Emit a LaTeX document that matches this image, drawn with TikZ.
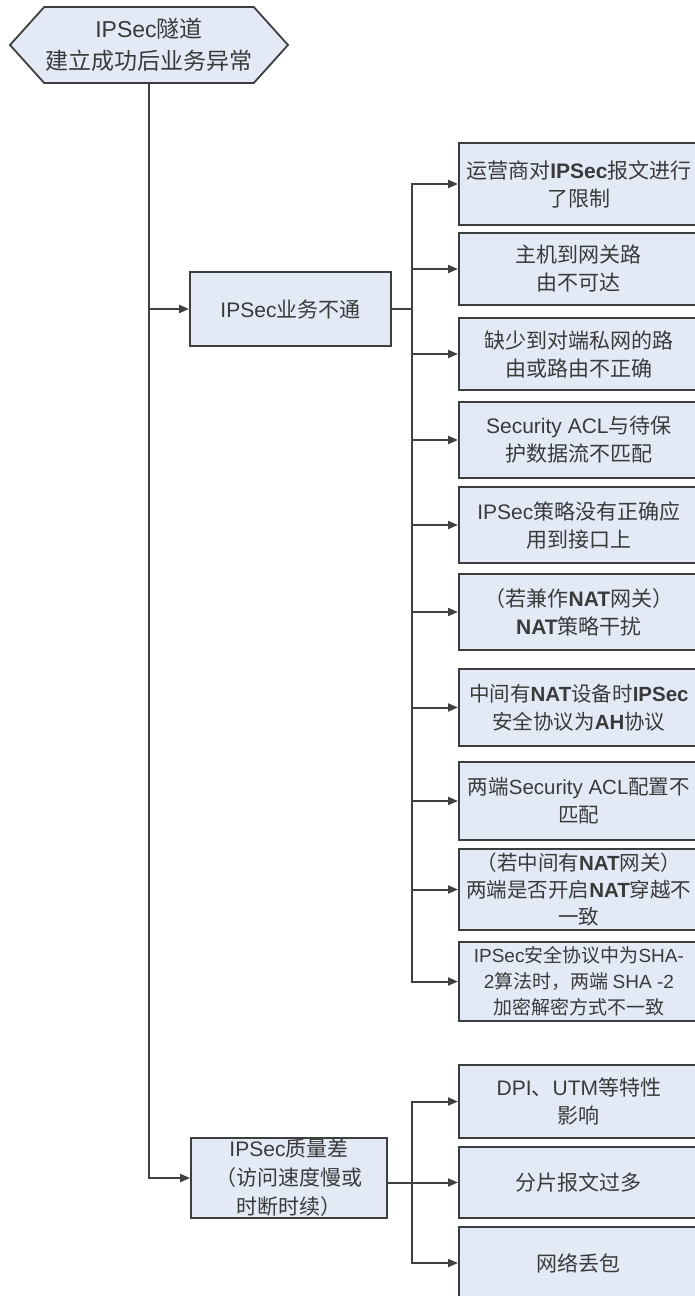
\documentclass[tikz,border=0pt]{standalone}
\usepackage{fontspec}
\setmainfont{Noto Sans CJK SC}
\newfontfamily\arial{Liberation Sans}
\newcommand{\en}[1]{{\arial #1}}
\newcommand{\enb}[1]{{\arial\bfseries #1}}
\usetikzlibrary{positioning,arrows.meta,shapes.symbols}
\definecolor{boxfill}{RGB}{227,234,246}
\definecolor{boxline}{RGB}{62,62,62}
\definecolor{txt}{RGB}{58,58,58}
\tikzset{
  hexa/.style={signal, signal to=west and east, signal pointer angle=96,
               draw=boxline, line width=1.8pt, fill=boxfill, minimum width=278pt,
               minimum height=76pt, inner sep=0pt, align=center, text=txt,
               font=\fontsize{23}{32}\selectfont},
  cause/.style={rectangle, draw=boxline, line width=1.8pt, fill=boxfill,
                inner sep=0pt, align=center, text=txt,
                font=\fontsize{21}{29}\selectfont},
  leaf/.style={rectangle, draw=boxline, line width=1.8pt, fill=boxfill, anchor=west,
               minimum width=240pt, minimum height=76pt, inner sep=0pt,
               align=center, text=txt, font=\fontsize{21}{28}\selectfont},
  link/.style={draw=black!75, line width=2pt},
  arr/.style={link, -{Triangle[length=10pt,width=8pt]}},
}

\begin{document}
\begin{tikzpicture}[x=1pt,y=-1pt]
  \useasboundingbox (0,0) rectangle (695,1296);
  % root
  \node[hexa] (top) at (149,45) {\en{IPSec}隧道\\建立成功后业务异常};
  % two kinds of fault
  \node[cause, minimum width=201pt, minimum height=74pt] (q1) at (290.5,309) {\en{IPSec}业务不通};
  \node[cause, minimum width=196pt, minimum height=80pt] (q2) at (289,1178) {\en{IPSec}质量差\\（访问速度慢或\\时断时续）};
  % causes of q1
  \node[leaf, minimum height=82pt] (r1) at (458,184) {运营商对\enb{IPSec}报文进行\\了限制};
  \node[leaf, minimum height=72pt] (r2) at (458,269) {主机到网关路\\由不可达};
  \node[leaf, minimum height=72pt] (r3) at (458,354) {缺少到对端私网的路\\由或路由不正确};
  \node[leaf] (r4) at (458,440) {\en{Security ACL}与待保\\护数据流不匹配};
  \node[leaf] (r5) at (458,525) {\en{IPSec}策略没有正确应\\用到接口上};
  \node[leaf] (r6) at (458,612) {（若兼作\enb{NAT}网关）\\\enb{NAT}策略干扰};
  \node[leaf, minimum height=77pt, font=\fontsize{20.5}{28}\selectfont] (r7) at (458,707.5) {中间有\enb{NAT}设备时\enb{IPSec}\\安全协议为\enb{AH}协议};
  \node[leaf, minimum height=78pt, font=\fontsize{20.5}{28}\selectfont] (r8) at (458,801) {两端\en{Security ACL}配置不\\匹配};
  \node[leaf, minimum height=81pt, font=\fontsize{20.5}{27}\selectfont] (r9) at (458,889.5) {（若中间有\enb{NAT}网关）\\两端是否开启\enb{NAT}穿越不\\一致};
  \node[leaf, minimum height=79pt, font=\fontsize{19}{26}\selectfont] (r10) at (458,981.5) {\en{IPSec}安全协议中为\en{SHA-}\\\en{2}算法时，两端 \en{SHA -2}\\加密解密方式不一致};
  % causes of q2
  \node[leaf, minimum height=73pt] (s1) at (458,1101.5) {\en{DPI}、\en{UTM}等特性\\影响};
  \node[leaf, minimum height=71pt] (s2) at (458,1182.5) {分片报文过多};
  \node[leaf, minimum height=72pt] (s3) at (458,1263) {网络丢包};
  % branch points
  \coordinate (j1) at (412,309);
  \coordinate (j2) at (412,1182.5);
  % connectors
  \draw[arr] (top.south) |- (q1.west);
  \draw[arr] (top.south) |- (q2.west);
  \draw[link] (q1.east) -- (j1);
  \draw[arr] (j1) |- (r1.west);
  \draw[arr] (j1) |- (r2.west);
  \draw[arr] (j1) |- (r3.west);
  \draw[arr] (j1) |- (r4.west);
  \draw[arr] (j1) |- (r5.west);
  \draw[arr] (j1) |- (r6.west);
  \draw[arr] (j1) |- (r7.west);
  \draw[arr] (j1) |- (r8.west);
  \draw[arr] (j1) |- (r9.west);
  \draw[arr] (j1) |- (r10.west);
  \draw[arr] (q2.east |- s2.west) -- (s2.west);
  \draw[arr] (j2) |- (s1.west);
  \draw[arr] (j2) |- (s3.west);
\end{tikzpicture}
\end{document}
